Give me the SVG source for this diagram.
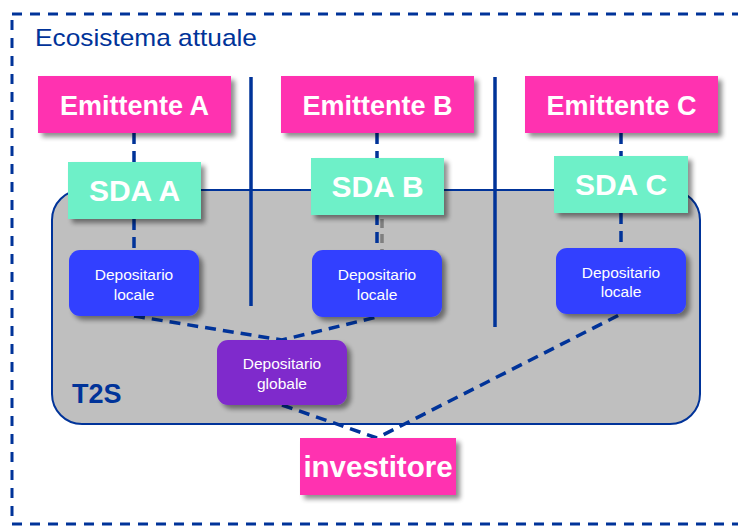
<svg xmlns="http://www.w3.org/2000/svg" width="738" height="526" viewBox="0 0 738 526">
<defs>
<filter id="sh" x="-20%" y="-20%" width="150%" height="160%">
<feGaussianBlur in="SourceAlpha" stdDeviation="2.5"/>
<feOffset dx="4" dy="4" result="b"/>
<feComponentTransfer><feFuncA type="linear" slope="0.45"/></feComponentTransfer>
<feMerge><feMergeNode/><feMergeNode in="SourceGraphic"/></feMerge>
</filter>
</defs>
<style>
.em{fill:#FF33B0;filter:url(#sh)}
.sda{fill:#6EF0C8;filter:url(#sh)}
.loc{fill:#3340FF;filter:url(#sh)}
.glo{fill:#7F2BCC;filter:url(#sh)}
.big{font-family:"Liberation Sans",Arial,sans-serif;font-weight:bold;fill:#fff;text-anchor:middle}
.sm{font-family:"Liberation Sans",Arial,sans-serif;font-size:15.5px;fill:#fff;text-anchor:middle}
.dash{fill:none;stroke:#003399;stroke-width:3.5;stroke-dasharray:11 7}
.solid{stroke:#003399;stroke-width:3.5}
</style>
<rect x="12" y="14" width="740" height="510" fill="none" stroke="#003399" stroke-width="3" stroke-dasharray="10 8"/>
<text x="35" y="46" font-family="Liberation Sans,Arial,sans-serif" font-size="24" fill="#003399" textLength="222" lengthAdjust="spacingAndGlyphs">Ecosistema attuale</text>
<g id="t2s">
<rect x="52" y="190" width="648" height="234" rx="30" fill="#BFBFBF" stroke="#003399" stroke-width="2"/>
<text x="72" y="403" font-family="Liberation Sans,Arial,sans-serif" font-size="27" font-weight="bold" fill="#003399">T2S</text>
</g>
<g id="connectors">
<line class="solid" x1="251" y1="77" x2="251" y2="306"/>
<line class="solid" x1="495" y1="77" x2="495" y2="327"/>
<line class="dash" x1="134" y1="133" x2="134" y2="162" stroke-dasharray="8 6"/>
<line class="dash" x1="377" y1="133" x2="377" y2="158" stroke-dasharray="14 6"/>
<line class="dash" x1="621" y1="133" x2="621" y2="156" stroke-dasharray="11 5"/>
<line class="dash" x1="134" y1="219" x2="134" y2="250" stroke-dasharray="11 6"/>
<line class="dash" x1="377" y1="214" x2="377" y2="250" stroke-dasharray="10 8"/>
<line x1="382" y1="219" x2="382" y2="257" stroke="#7F7F7F" stroke-width="3.5" stroke-dasharray="9 6"/>
<line class="dash" x1="621" y1="213" x2="621" y2="248" stroke-dasharray="11 8"/>
<polyline class="dash" points="134,316 282,340 377,317"/>
<polyline class="dash" points="282,405 377,438 621,314"/>
</g>
<g id="emittenteA"><rect class="em" x="38" y="76" width="193" height="57"/><text class="big" x="134.5" y="115" font-size="27">Emittente A</text></g>
<g id="emittenteB"><rect class="em" x="281" y="76" width="193" height="57"/><text class="big" x="377.5" y="115" font-size="27">Emittente B</text></g>
<g id="emittenteC"><rect class="em" x="525" y="76" width="193" height="57"/><text class="big" x="621.5" y="115" font-size="27">Emittente C</text></g>
<g id="sdaA"><rect class="sda" x="68" y="162" width="133" height="57"/><text class="big" x="134.5" y="201" font-size="30">SDA A</text></g>
<g id="sdaB"><rect class="sda" x="311" y="158" width="133" height="57"/><text class="big" x="377.5" y="197" font-size="30">SDA B</text></g>
<g id="sdaC"><rect class="sda" x="554" y="156" width="134" height="57"/><text class="big" x="621" y="195" font-size="30">SDA C</text></g>
<g id="locA"><rect class="loc" x="69" y="250" width="130" height="66" rx="11"/><text class="sm" x="134" y="280">Depositario</text><text class="sm" x="134" y="300">locale</text></g>
<g id="locB"><rect class="loc" x="312" y="250" width="130" height="67" rx="11"/><text class="sm" x="377" y="280">Depositario</text><text class="sm" x="377" y="300">locale</text></g>
<g id="locC"><rect class="loc" x="556" y="248" width="130" height="66" rx="11"/><text class="sm" x="621" y="278">Depositario</text><text class="sm" x="621" y="297">locale</text></g>
<g id="globale"><rect class="glo" x="217" y="340" width="130" height="65" rx="11"/><text class="sm" x="282" y="369">Depositario</text><text class="sm" x="282" y="389">globale</text></g>
<g id="investitore"><rect class="em" x="300" y="438" width="156" height="57"/><text class="big" x="378" y="477" font-size="29.5">investitore</text></g>
</svg>
